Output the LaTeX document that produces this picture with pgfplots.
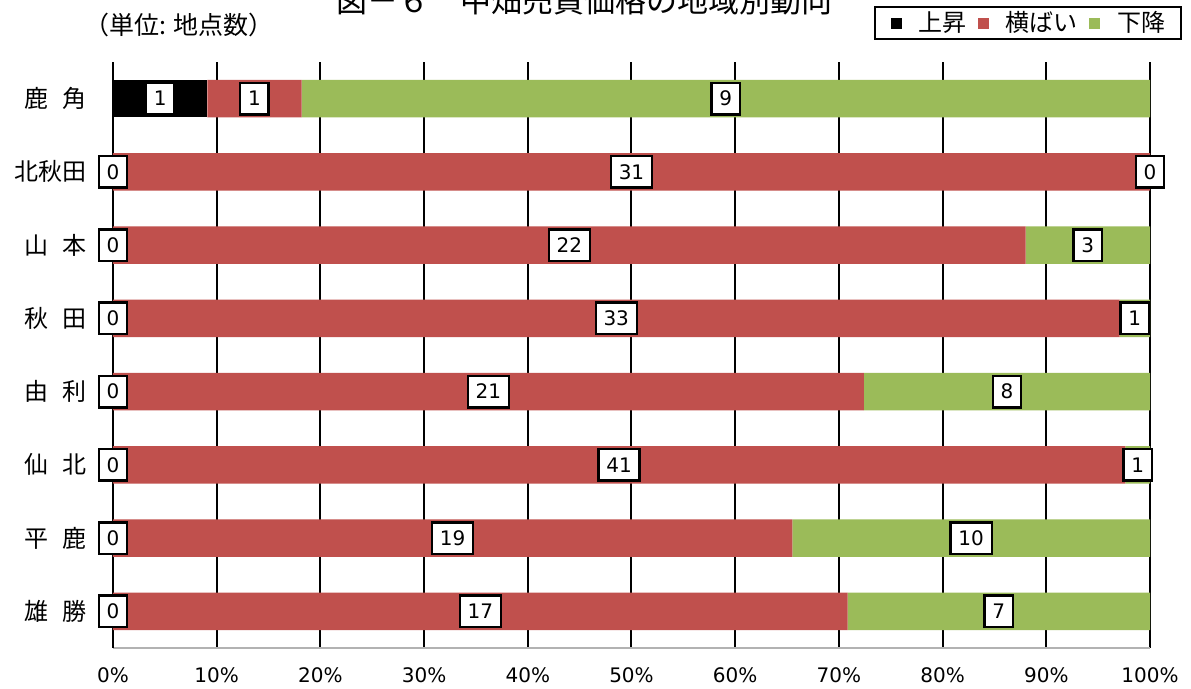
\documentclass[border=0pt]{standalone}
\usepackage{fontspec}
\setmainfont{DejaVu Sans}
\newfontfamily\jp{Noto Sans CJK JP}
\usepackage{pgfplots}
\pgfplotsset{compat=1.18}
\usepackage{pgfplotstable}
\definecolor{cred}{HTML}{C0504D}
\definecolor{cgreen}{HTML}{9BBB59}

% percentage shares (counts / total * 100)
\pgfplotstableread{
y up flat down
0 9.0909 9.0909 81.8182
1 0 100 0
2 0 88 12
3 0 97.0588 2.9412
4 0 72.4138 27.5862
5 0 97.6190 2.3810
6 0 65.5172 34.4828
7 0 70.8333 29.1667
}\pct

% label positions (segment middle) and counts
\pgfplotstableread{
x y n
4.5455 0 1
13.6364 0 1
59.0909 0 9
0 1 0
50 1 31
100 1 0
0 2 0
44 2 22
94 2 3
0 3 0
48.5294 3 33
98.5294 3 1
0 4 0
36.2069 4 21
86.2069 4 8
0 5 0
48.8095 5 41
98.8095 5 1
0 6 0
32.7586 6 19
82.7586 6 10
0 7 0
35.4167 7 17
85.4167 7 7
}\lbl

\pgfplotsset{myaxis/.style={
  scale only axis, width=518.5pt, height=293pt,
  xmin=0, xmax=100, ymin=-0.5, ymax=7.5, y dir=reverse,
  at={(0pt,0pt)}, anchor=south west}}

\begin{document}
\begin{tikzpicture}
\begin{axis}[myaxis,
  xbar stacked, bar width=18.75pt,
  every axis plot post/.append style={
    legend image code/.code={\path[##1, draw=none] (0pt,-2.9pt) rectangle (5.6pt,2.7pt);}},
  axis x line*=bottom, axis y line*=left,
  x axis line style={draw=gray!60, line width=1pt, -},
  y axis line style={draw=black, line width=1pt, -},
  xtick={0,10,...,100},
  xticklabels={0\%,10\%,20\%,30\%,40\%,50\%,60\%,70\%,80\%,90\%,100\%},
  ytick={0,...,7},
  yticklabels={鹿\hspace{7pt}角,北秋田,山\hspace{7pt}本,秋\hspace{7pt}田,由\hspace{7pt}利,仙\hspace{7pt}北,平\hspace{7pt}鹿,雄\hspace{7pt}勝},
  major tick length=0pt,
  xmajorgrids, major grid style={draw=black, line width=1pt},
  xticklabel style={font=\fontsize{10}{12}\selectfont, anchor=base, yshift=-17.5pt, inner sep=0pt},
  yticklabel style={font=\jp\fontsize{12}{14}\selectfont, anchor=east, inner sep=0pt, xshift=-13pt},
  legend columns=3,
  legend style={at={(1.031,1.0956)}, anchor=north east, draw=black, line width=1pt,
    font=\jp\fontsize{12}{14}\selectfont,
    nodes={inner sep=0pt},
    inner xsep=8pt, inner ysep=2.2pt,
    /tikz/every even column/.append style={column sep=5.5pt},
    /tikz/every odd column/.append style={column sep=8.5pt}},
]
\addplot[fill=black, draw=none] table[x=up, y=y]{\pct};
\addplot[fill=cred, draw=none] table[x=flat, y=y]{\pct};
\addplot[fill=cgreen, draw=none] table[x=down, y=y]{\pct};
\legend{上昇,横ばい,下降}
\end{axis}
\begin{axis}[myaxis, hide axis, clip=false]
\addplot[draw=none, mark=none, nodes near coords, point meta=explicit symbolic,
  every node near coord/.append style={anchor=center, draw=black, line width=1.2pt, fill=white,
    font=\fontsize{10}{12}\selectfont, inner xsep=3.9pt, inner ysep=4.2pt,
    text height=7.3pt, text depth=0pt}]
  table[x=x, y=y, meta=n]{\lbl};
\end{axis}
\node[anchor=base west, inner sep=0pt, font=\jp\fontsize{15.5}{18}\selectfont] at (111.5pt,317.5pt) {図－６　中畑売買価格の地域別動向};
\node[anchor=west, inner sep=0pt, font=\jp\fontsize{12.5}{15}\selectfont] at (-14.5pt,311.5pt) {（単位: 地点数）};
\pgfresetboundingbox
\path[use as bounding box] (-56.5pt,-20.5pt) rectangle (539pt,324pt);
\end{tikzpicture}
\end{document}
